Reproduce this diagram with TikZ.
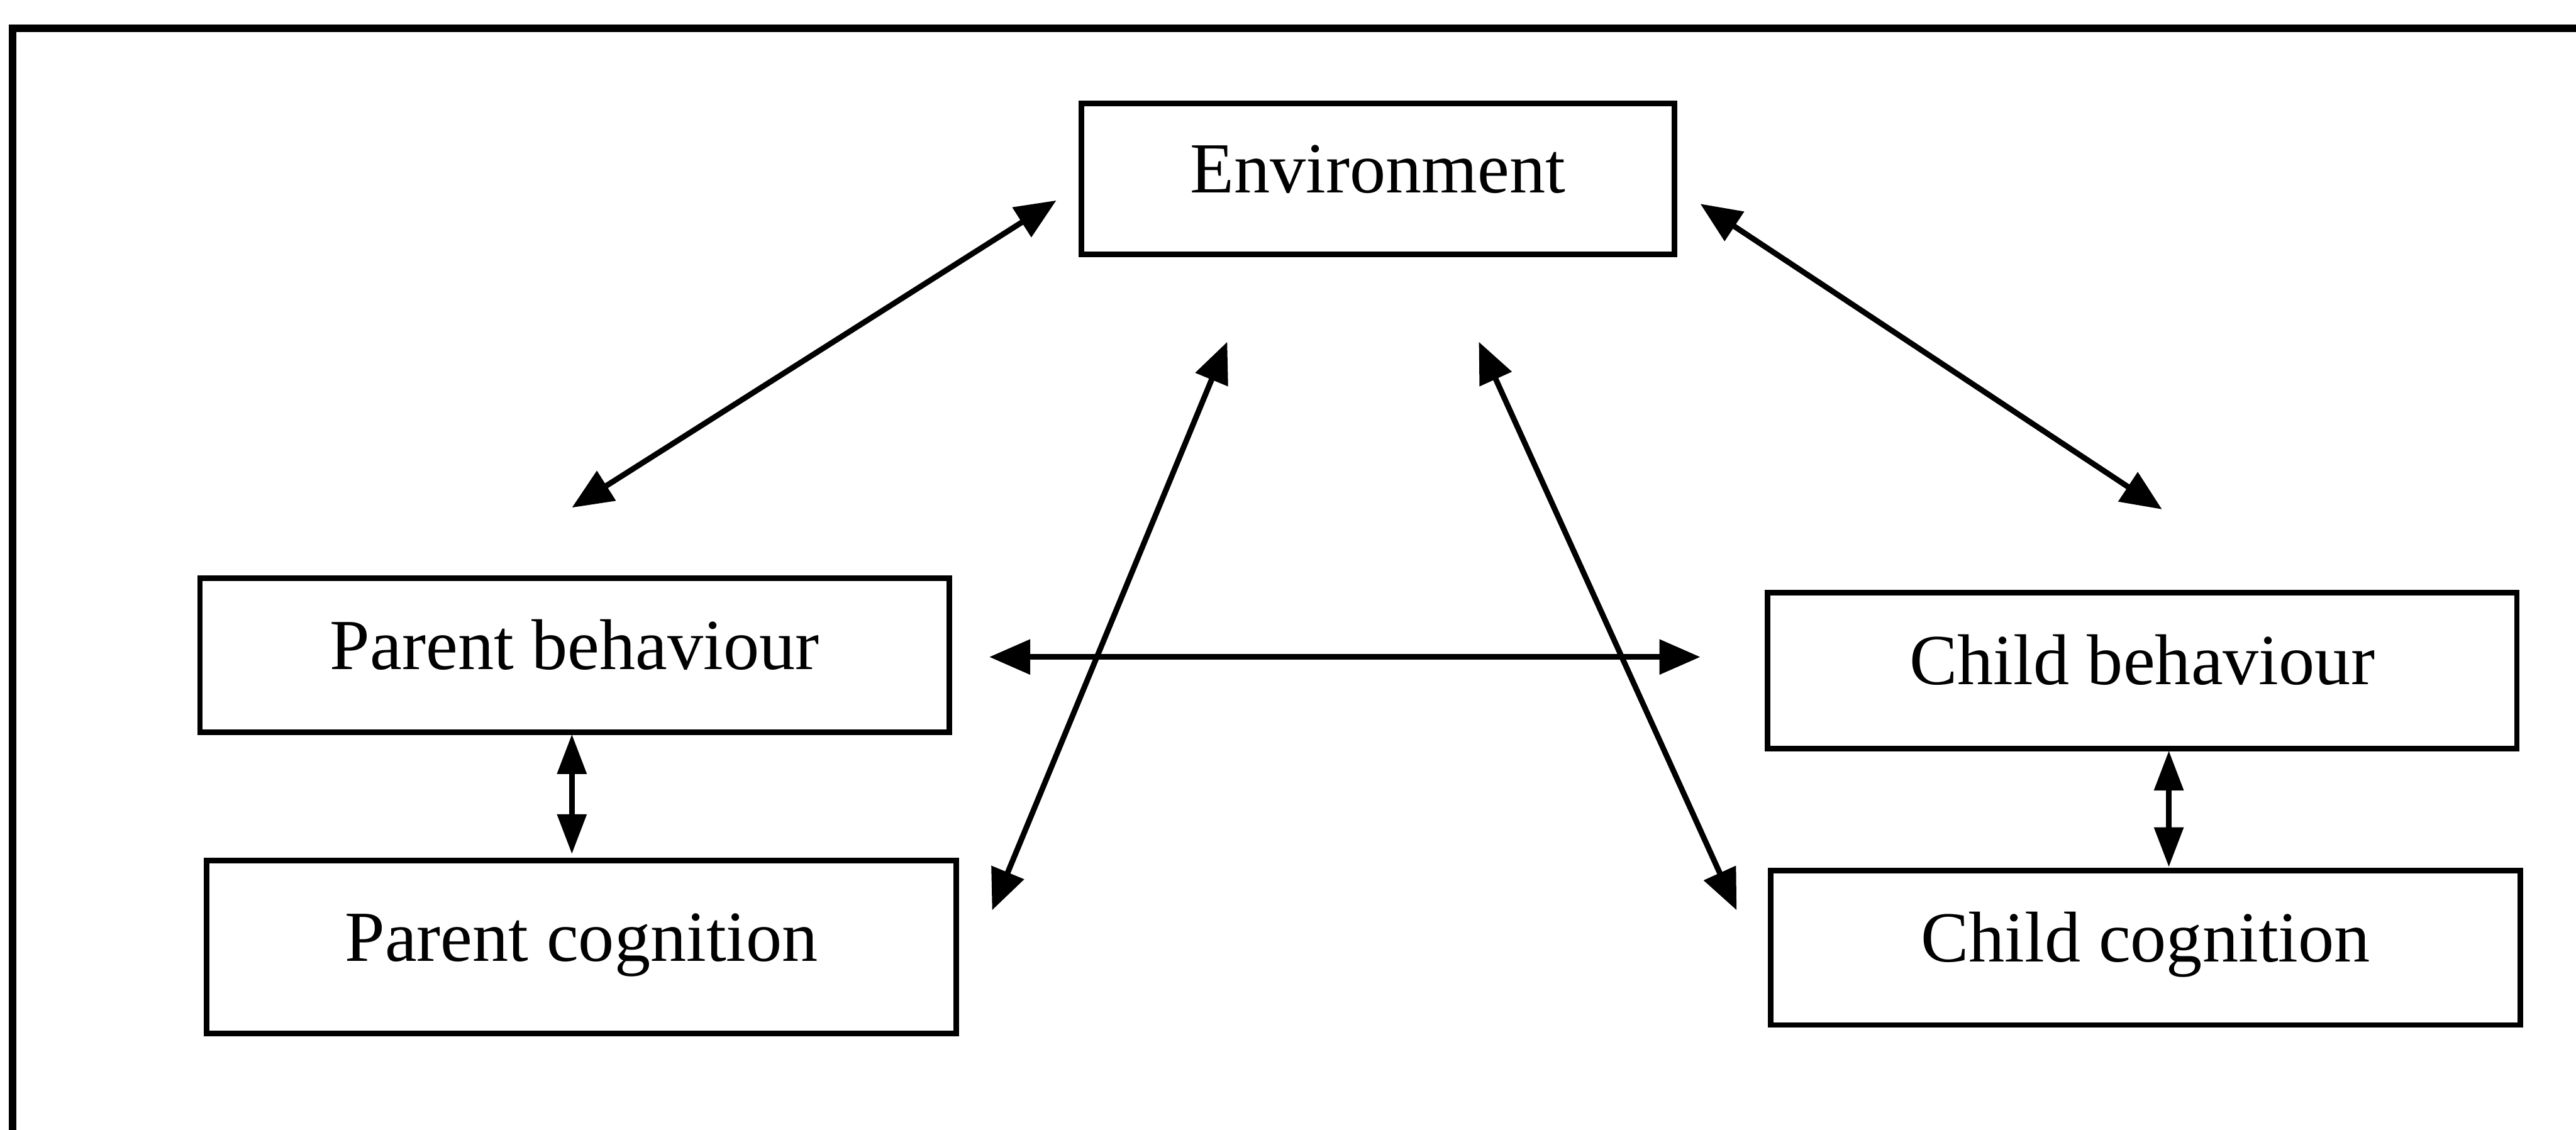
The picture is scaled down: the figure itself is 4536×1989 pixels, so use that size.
\documentclass[tikz,border=0pt]{standalone}
\usepackage{fontspec}
\setmainfont{Liberation Serif}
\usetikzlibrary{arrows.meta}
\tikzset{
  box/.style={draw=black, line width=2.8pt, rectangle, inner sep=0pt, fill=white,
    font=\fontsize{36}{42}\selectfont, text height=26pt, text depth=11.8pt},
  link/.style={line width=2.8pt,
    {Triangle[length=0.72cm,width=0.6cm]}-{Triangle[length=0.72cm,width=0.6cm]}},
  shortlink/.style={line width=2.8pt,
    {Triangle[length=0.7cm,width=0.5cm]}-{Triangle[length=0.7cm,width=0.5cm]}},
  frameline/.style={line width=4pt, line cap=rect}
}
\begin{document}
\begin{tikzpicture}[x=0.01cm, y=-0.01cm]
\useasboundingbox (0,0) rectangle (4536,1989);
\fill[white] (0,0) rectangle (4536,1989);
% outer frame (open at right and bottom)
\draw[frameline] (22,2100) -- (22,50) -- (4700,50);

% boxes
\node[box, minimum width=10.44cm, minimum height=2.66cm] (env) at (2426,315) {Environment};
\node[box, minimum width=13.19cm, minimum height=2.72cm] (pb) at (1012,1154) {Parent behaviour};
\node[box, minimum width=13.19cm, minimum height=3.04cm] (pc) at (1024,1668) {Parent cognition};
\node[box, minimum width=13.19cm, minimum height=2.75cm] (cb) at (3772,1181) {Child behaviour};
\node[box, minimum width=13.19cm, minimum height=2.72cm] (cc) at (3778,1669) {Child cognition};

% connector end points
\coordinate (e1) at (1860,353);
\coordinate (p1) at (1007,894);
\coordinate (e2) at (2994,359);
\coordinate (c2) at (3807,897);
\coordinate (h1) at (1742,1157);
\coordinate (h2) at (2994,1157);
\coordinate (v1) at (1007,1293);
\coordinate (v2) at (1007,1504);
\coordinate (w1) at (3819,1322);
\coordinate (w2) at (3819,1527);
\coordinate (pcx) at (1747,1603);
\coordinate (e3) at (2161,602);
\coordinate (ccx) at (3058,1603);
\coordinate (e4) at (2604,602);

\draw[link] (e1) -- (p1);
\draw[link] (e2) -- (c2);
\draw[link] (h1) -- (h2);
\draw[shortlink] (v1) -- (v2);
\draw[shortlink] (w1) -- (w2);
\draw[link] (pcx) -- (e3);
\draw[link] (ccx) -- (e4);
\end{tikzpicture}
\end{document}
